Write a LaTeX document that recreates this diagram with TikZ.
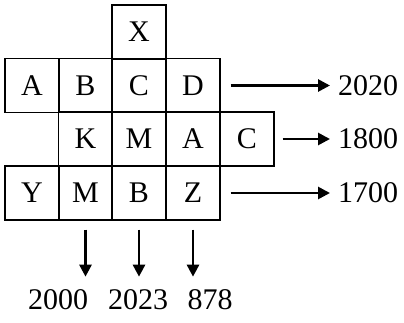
\documentclass[tikz,border=0pt]{standalone}
\usepackage{fontspec}
\setmainfont{Liberation Serif}
\usetikzlibrary{arrows.meta}
\begin{document}
\begin{tikzpicture}[x=1pt,y=-1pt]
\tikzstyle{every node}+=[inner sep=0pt, font=\fontsize{30}{36}\selectfont]
\tikzstyle{cell}=[draw, line width=1.6pt, minimum size=53.7pt]
\tikzstyle{pointer}=[line width=2.7pt, -{Triangle[length=12pt,width=12pt]}]
\useasboundingbox (0,0) rectangle (404,322);
% top cell
\node[cell] (x0) at (139,32) {X};
% first row
\node[cell] (a1) at (32,85.5) {A};
\node[cell] (b1) at (85.5,85.5) {B};
\node[cell] (c1) at (139,85.5) {C};
\node[cell] (d1) at (193,85.5) {D};
% second row
\node[cell] (k2) at (85.5,139) {K};
\node[cell] (m2) at (139,139) {M};
\node[cell] (a2) at (193,139) {A};
\node[cell] (c2) at (247,139) {C};
% third row
\node[cell] (y3) at (32,193) {Y};
\node[cell] (m3) at (85.5,193) {M};
\node[cell] (b3) at (139,193) {B};
\node[cell] (z3) at (193,193) {Z};
% values
\node[anchor=west] (v2020) at (338,85.5) {2020};
\node[anchor=west] (v1800) at (338,139) {1800};
\node[anchor=west] (v1700) at (338,193) {1700};
\node (v2000) at (58,300) {2000};
\node (v2023) at (138,300) {2023};
\node (v878) at (210,300) {878};
\draw[pointer, shorten <=10pt, shorten >=8pt] (d1) -- (v2020);
\draw[pointer, shorten <=8pt, shorten >=8pt] (c2) -- (v1800);
\draw[pointer, shorten <=10pt, shorten >=8pt] (z3) -- (v1700);
\draw[pointer, shorten <=9pt, shorten >=13pt] (m3) -- (m3 |- v2000.north);
\draw[pointer, shorten <=9pt, shorten >=13pt] (b3) -- (b3 |- v2023.north);
\draw[pointer, shorten <=9pt, shorten >=13pt] (z3) -- (z3 |- v878.north);
\end{tikzpicture}
\end{document}
